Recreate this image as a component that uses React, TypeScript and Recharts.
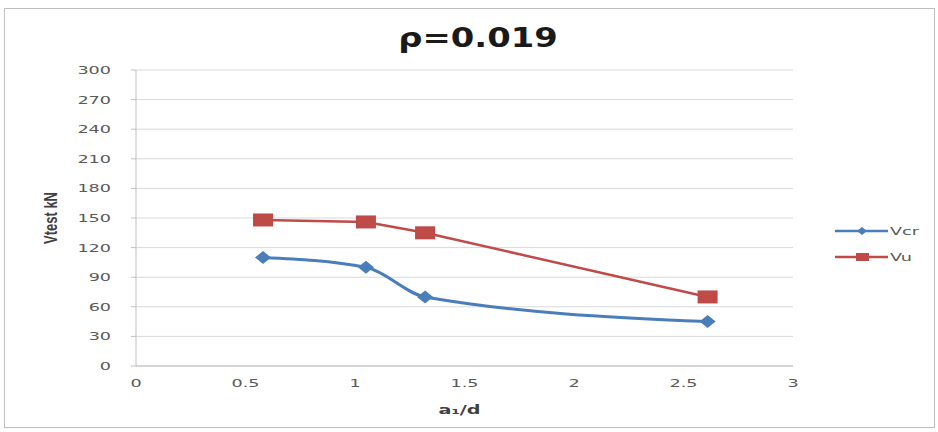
import React from 'react';
import { LineChart, Line, XAxis, YAxis, CartesianGrid, Legend } from 'recharts';

const ratios = [0.58, 1.05, 1.32, 2.61];
const vcrValues = [110, 100, 70, 45];
const vuValues = [148, 146, 135, 70];
const xTicks = [0, 0.5, 1, 1.5, 2, 2.5, 3];
const yTicks = [0, 30, 60, 90, 120, 150, 180, 210, 240, 270, 300];

const rows = ratios.map((x, i) => ({ x, Vcr: vcrValues[i], Vu: vuValues[i] }));

const BLUE = '#4a7ebb';
const RED = '#be4b48';
const TEXT = '#595959';
const STRETCH = 1.6;

// the source image is stretched sideways, so the text is widened to match
const Wide = ({ x, y, anchor, size, weight, fill, children }: any) => (
  <g transform={`translate(${x},${y}) scale(${STRETCH},1)`}>
    <text x={0} y={0} textAnchor={anchor} fontSize={size} fontWeight={weight} fill={fill} fontFamily="DejaVu Sans">
      {children}
    </text>
  </g>
);

const XTick = (props: any) => {
  const { x, y, payload } = props;
  return <Wide x={x} y={y + 13} anchor="middle" size={11} fill={TEXT}>{String(payload.value)}</Wide>;
};

const YTick = (props: any) => {
  const { x, y, payload } = props;
  return <Wide x={x - 18} y={y + 4} anchor="end" size={11} fill={TEXT}>{String(payload.value)}</Wide>;
};

const XTitle = (props: any) => {
  const vb = props.viewBox || {};
  const cx = vb.x + vb.width / 2 - 5;
  return <Wide x={cx} y={vb.y + 48} anchor="middle" size={12} weight="bold" fill="#404040">a₁/d</Wide>;
};

const YTitle = (props: any) => {
  const vb = props.viewBox || {};
  const cy = vb.y + vb.height / 2;
  return (
    <g transform={`translate(57,${cy}) scale(1.4,1) rotate(-90)`}>
      <text x={0} y={0} textAnchor="middle" fontSize={13} fontWeight="bold" fill="#404040" fontFamily="Liberation Sans Narrow, Liberation Sans">
        Vtest kN
      </text>
    </g>
  );
};

const Diamond = (props: any) => {
  const { cx, cy } = props;
  if (cx == null || cy == null) return null;
  return <path d={`M${cx},${cy - 6.5}L${cx + 8},${cy}L${cx},${cy + 6.5}L${cx - 8},${cy}Z`} fill={BLUE} />;
};

const Square = (props: any) => {
  const { cx, cy } = props;
  if (cx == null || cy == null) return null;
  return <rect x={cx - 10} y={cy - 6.5} width={20} height={13} fill={RED} />;
};

const LegendBox = () => (
  <svg width={100} height={50}>
    <line x1={0} y1={11} x2={53} y2={11} stroke={BLUE} strokeWidth={2.5} />
    <path d="M27,7L32,11L27,15L22,11Z" fill={BLUE} />
    <g transform="translate(55,15) scale(1.6,1)">
      <text fontSize={11} fill={TEXT} fontFamily="DejaVu Sans">Vcr</text>
    </g>
    <line x1={0} y1={37} x2={53} y2={37} stroke={RED} strokeWidth={2.5} />
    <rect x={21} y={33} width={13} height={8} fill={RED} />
    <g transform="translate(55,41) scale(1.6,1)">
      <text fontSize={11} fill={TEXT} fontFamily="DejaVu Sans">Vu</text>
    </g>
  </svg>
);

export default function App() {
  return (
    <div style={{ position: 'absolute', left: 0, top: 0, width: 938, height: 432, background: '#fff' }}>
      <div style={{ position: 'absolute', left: 4, top: 8, width: 929, height: 418, border: '1px solid #bfbfbf' }} />
      <div style={{ position: 'absolute', left: 0, top: 0 }}>
        <LineChart width={938} height={432} data={rows} margin={{ top: 70, right: 45, left: 96, bottom: 36 }}>
          <text x={478} y={47} textAnchor="middle" fontSize={26} fontWeight="bold" fill="#1a1a1a" fontFamily="DejaVu Sans" transform="translate(478,0) scale(1.3,1) translate(-478,0)">
            ρ=0.019
          </text>
          <CartesianGrid vertical={false} stroke="#d9d9d9" />
          <XAxis
            dataKey="x"
            type="number"
            domain={[0, 3]}
            ticks={xTicks}
            stroke="#bfbfbf"
            tickLine={false}
            tick={<XTick />}
            height={30}
            label={<XTitle />}
          />
          <YAxis
            type="number"
            domain={[0, 300]}
            ticks={yTicks}
            stroke="#bfbfbf"
            tickSize={5}
            tick={<YTick />}
            width={40}
            interval={0}
            label={<YTitle />}
          />
          <Legend
            layout="vertical"
            align="right"
            verticalAlign="top"
            content={<LegendBox />}
            wrapperStyle={{ left: 835, top: 220, width: 100 }}
          />
          <Line
            dataKey="Vcr"
            type="monotone"
            stroke={BLUE}
            strokeWidth={3}
            dot={<Diamond />}
            activeDot={false}
            isAnimationActive={false}
          />
          <Line
            dataKey="Vu"
            type="linear"
            stroke={RED}
            strokeWidth={2.5}
            dot={<Square />}
            activeDot={false}
            isAnimationActive={false}
          />
        </LineChart>
      </div>
    </div>
  );
}
